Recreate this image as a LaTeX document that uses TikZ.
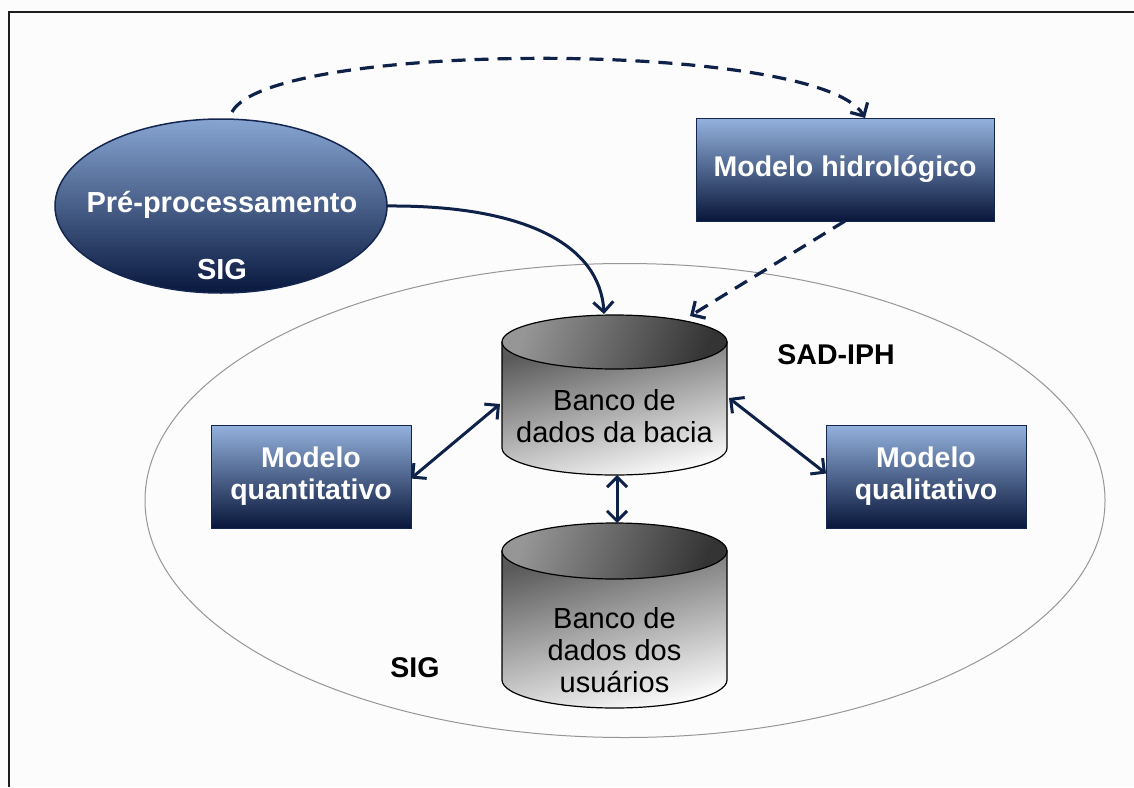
\documentclass[tikz,border=0pt]{standalone}
\usepackage{fontspec}
\setmainfont{Liberation Sans}
\usetikzlibrary{arrows.meta,shapes.geometric}

\definecolor{pagebg}{RGB}{252,252,252}
\definecolor{framec}{RGB}{30,30,30}
\definecolor{navy}{RGB}{20,38,80}
\definecolor{arrowc}{RGB}{14,33,72}
\definecolor{boxtop}{RGB}{148,178,222}
\definecolor{boxbot}{RGB}{8,22,58}
\definecolor{elltop}{RGB}{135,165,210}
\definecolor{ellbot}{RGB}{8,24,62}
\definecolor{sidetop}{RGB}{90,90,90}
\definecolor{sidebot}{RGB}{250,250,250}
\definecolor{caplight}{RGB}{150,150,150}
\definecolor{capdark}{RGB}{52,52,52}
\definecolor{outerc}{RGB}{150,150,150}

\begin{document}
\begin{tikzpicture}[x=1pt,y=1pt,
  every node/.style={inner sep=0pt,outer sep=0pt},
  modelbox/.style={rectangle,draw=navy,line width=1pt,top color=boxtop,bottom color=boxbot,
    text=white,font=\fontsize{28.5}{32}\selectfont\bfseries,align=center},
  prebox/.style={ellipse,draw=navy,line width=1.5pt,top color=elltop,bottom color=ellbot},
  whitelabel/.style={text=white,font=\fontsize{29}{33}\selectfont\bfseries},
  blacklabel/.style={text=black,font=\fontsize{28.5}{33}\selectfont\bfseries},
  dbtext/.style={text=black,font=\fontsize{29}{32}\selectfont,align=center},
  cylside/.style={draw=black,line width=1.2pt,top color=sidetop,bottom color=sidebot,shading angle=15},
  cyltop/.style={draw=black,line width=1.2pt,left color=caplight,right color=capdark,shading angle=70},
  >={Straight Barb[length=10pt,width=20pt]},
  link/.style={draw=arrowc,line width=3pt},
  dashlink/.style={link,line width=3.2pt,dash pattern=on 14pt off 9pt},
]
% page and frame
\fill[pagebg] (0,0) rectangle (1134,-787);
\useasboundingbox (0,0) rectangle (1134,-787);
\draw[framec,line width=2pt] (9,-787) -- (9,-12) -- (1134,-12);

% system boundary
\node (sad) [ellipse,draw=outerc,line width=1pt,minimum width=960,minimum height=474] at (625,-500.5) {};
\node (sadlabel) [blacklabel] at (836,-355) {SAD-IPH};
\node (siglabel) [blacklabel] at (415,-668) {SIG};

% database of the basin
\path[cylside] (502,-342) -- (502,-448) arc[start angle=180,end angle=360,x radius=112.5,y radius=27] -- (727,-342) -- cycle;
\path[cyltop] (614.5,-342) ellipse [x radius=112.5,y radius=27];
\node (bacia) [dbtext] at (614.5,-416) {Banco de\\dados da bacia};

% database of the users
\path[cylside] (502,-551) -- (502,-680) arc[start angle=180,end angle=360,x radius=112.5,y radius=28] -- (727,-551) -- cycle;
\path[cyltop] (614.5,-551) ellipse [x radius=112.5,y radius=28];
\node (usuarios) [dbtext] at (614.5,-650) {Banco de\\dados dos\\usuários};

% attachment points on the cylinders
\coordinate (bacia-n)  at (604,-314);
\coordinate (bacia-ne) at (690,-316);
\coordinate (bacia-w)  at (500,-404);
\coordinate (bacia-e)  at (729,-398);
\coordinate (bacia-s)  at (617,-475);
\coordinate (usuarios-n) at (617,-523);
\coordinate (pre-top)  at (232,-112);

% models
\node (hid) [modelbox,minimum width=298,minimum height=103] at (845,-169.5) {Modelo hidrológico};
\node (quant) [modelbox,minimum width=200,minimum height=103] at (311,-476.5) {Modelo\\quantitativo};
\node (qual) [modelbox,minimum width=200,minimum height=103] at (926,-476.5) {Modelo\\qualitativo};

% pre-processing
\node (pre) [prebox,minimum width=332,minimum height=174] at (221,-206) {};
\node (pretext) [whitelabel] at (222,-205) {Pré-processamento};
\node (presig) [whitelabel] at (222,-270) {SIG};

% connectors
\draw[dashlink,->] (pre-top) .. controls (270,-40) and (820,-40) .. ([xshift=20pt]hid.north);
\draw[link,->] (pre.east) .. controls (525,-205) and (600,-245) .. (bacia-n);
\draw[dashlink,->] (hid.south) -- (bacia-ne);
\draw[link,<->] (bacia-w) -- ([yshift=-2pt]quant.east);
\draw[link,<->] (bacia-e) -- ([yshift=3pt]qual.west);
\draw[link,<->] (bacia-s) -- (usuarios-n);
\end{tikzpicture}
\end{document}
